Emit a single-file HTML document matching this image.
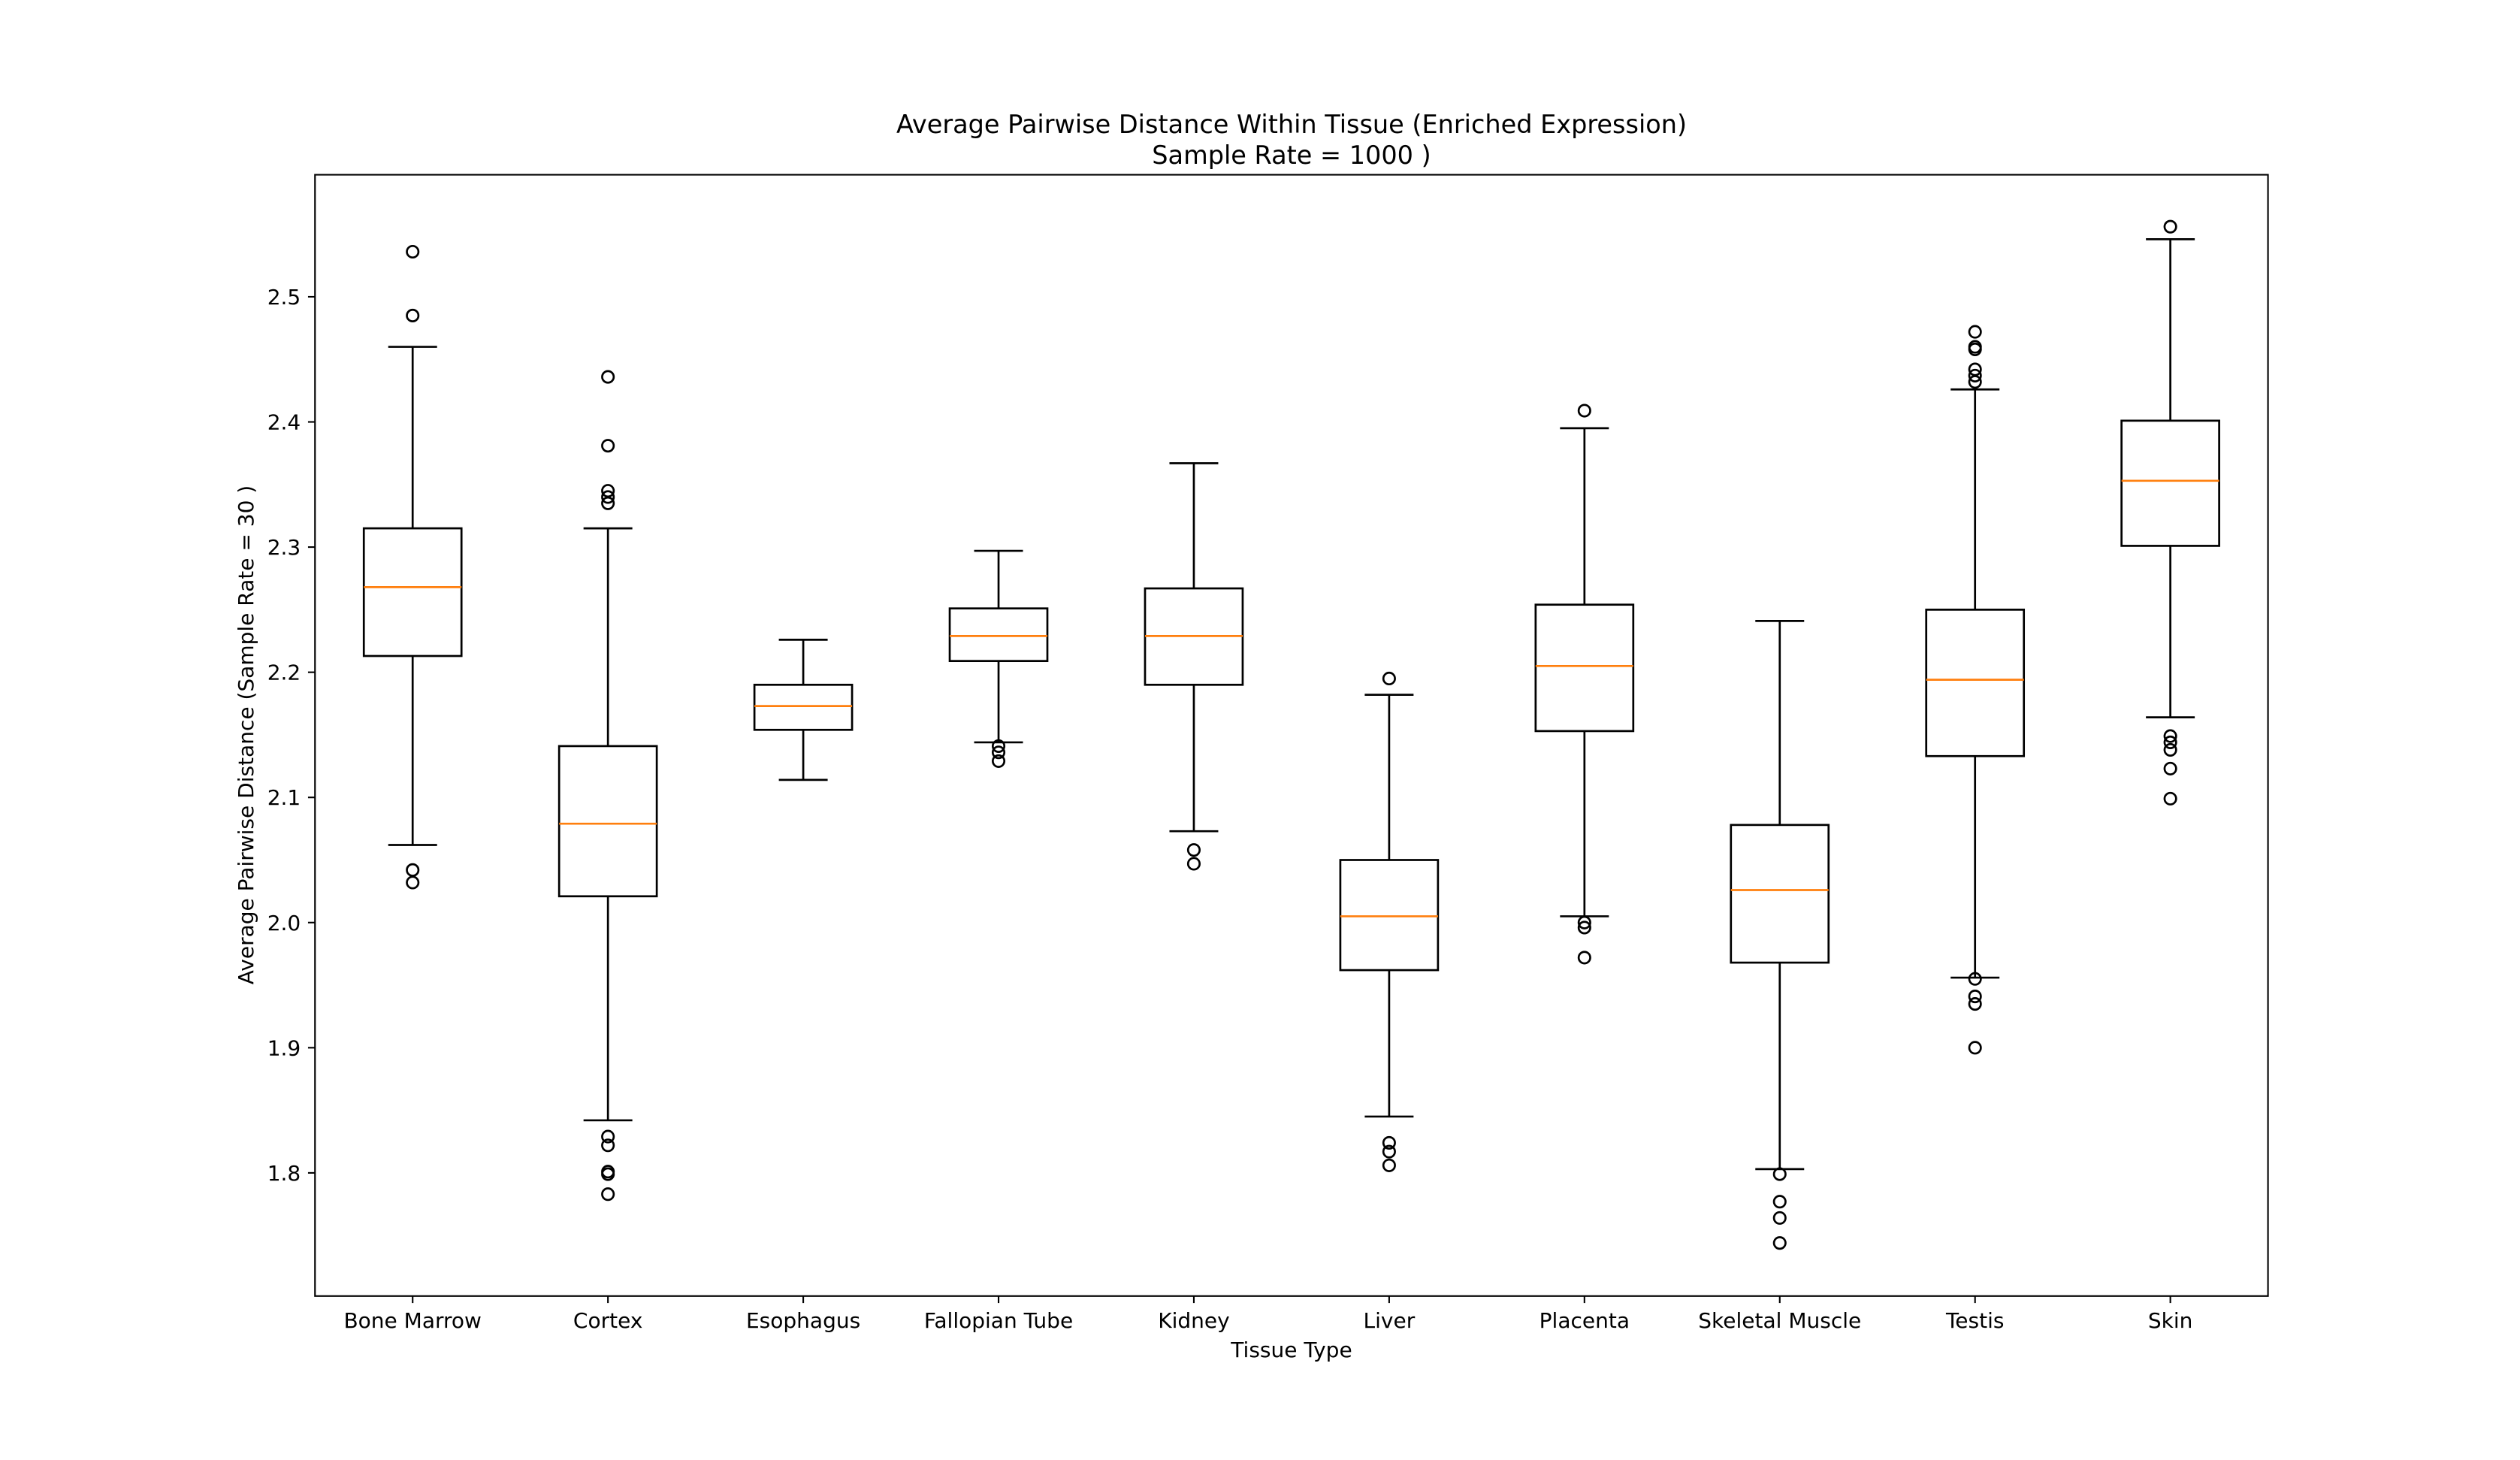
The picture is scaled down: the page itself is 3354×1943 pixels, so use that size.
<!DOCTYPE html>
<html><head><meta charset="utf-8"><style>
html,body{margin:0;padding:0;background:#fff;}
svg text{font-family:"DejaVu Sans","Liberation Sans",sans-serif;fill:#000;}
</style></head><body>
<svg id="chart" width="3354" height="1938" viewBox="0 0 3354 1938" xmlns="http://www.w3.org/2000/svg">
<rect width="3354" height="1938" fill="#fff"/>
<g id="plot"></g>
<text x="1719" y="177" font-size="33.5" text-anchor="middle">Average Pairwise Distance Within Tissue (Enriched Expression)</text>
<text x="1719" y="218" font-size="33.5" text-anchor="middle">Sample Rate = 1000 )</text>
<text x="1719" y="1806" font-size="28" text-anchor="middle">Tissue Type</text>
<text x="0" y="0" font-size="28" text-anchor="middle" transform="translate(337,978) rotate(-90)">Average Pairwise Distance (Sample Rate = 30 )</text>
</svg>
<script>
const categories = ["Bone Marrow","Cortex","Esophagus","Fallopian Tube","Kidney","Liver","Placenta","Skeletal Muscle","Testis","Skin"];
const whiskerLow = [2.062,1.842,2.114,2.144,2.073,1.845,2.005,1.803,1.956,2.164];
const q1 = [2.213,2.021,2.154,2.209,2.190,1.962,2.153,1.968,2.133,2.301];
const medians = [2.268,2.079,2.173,2.229,2.229,2.005,2.205,2.026,2.194,2.353];
const q3 = [2.315,2.141,2.190,2.251,2.267,2.050,2.254,2.078,2.250,2.401];
const whiskerHigh = [2.460,2.315,2.226,2.297,2.367,2.182,2.395,2.241,2.426,2.546];
const fliers = [
 [2.536,2.485,2.042,2.032],
 [2.436,2.381,2.345,2.340,2.335,1.829,1.822,1.801,1.799,1.783],
 [],
 [2.141,2.136,2.129],
 [2.058,2.047],
 [2.195,1.824,1.817,1.806],
 [2.409,2.000,1.996,1.972],
 [1.799,1.777,1.764,1.744],
 [2.472,2.460,2.458,2.442,2.437,2.432,1.955,1.941,1.935,1.900],
 [2.556,2.149,2.144,2.138,2.123,2.099]
];
const yTicks = [1.8,1.9,2.0,2.1,2.2,2.3,2.4,2.5];
const yTickLabels = ["1.8","1.9","2.0","2.1","2.2","2.3","2.4","2.5"];

const L=419.25,R=3018.6,T=232.56,B=1724.8;
const yMin=1.7016,yMax=2.5975;
function sx(i){return L+(i+0.5)*(R-L)/categories.length;}
function sy(v){return B-(v-yMin)/(yMax-yMin)*(B-T);}
const unit=(R-L)/categories.length;
const NS="http://www.w3.org/2000/svg";
const g=document.getElementById('plot');
function mk(tag,attrs,parent){const e=document.createElementNS(NS,tag);for(const k in attrs)e.setAttribute(k,attrs[k]);(parent||g).appendChild(e);return e;}

categories.forEach((c,i)=>{
 const grp=mk('g',{});
 
 
 const x=sx(i),hw=unit*0.25,cw=unit*0.125;
 const st={stroke:'#000','stroke-width':2.7,fill:'none'};
 mk('line',Object.assign({x1:x,x2:x,y1:sy(whiskerHigh[i]),y2:sy(q3[i])},st),grp);
 mk('line',Object.assign({x1:x,x2:x,y1:sy(q1[i]),y2:sy(whiskerLow[i])},st),grp);
 mk('line',Object.assign({x1:x-cw,x2:x+cw,y1:sy(whiskerHigh[i]),y2:sy(whiskerHigh[i])},st),grp);
 mk('line',Object.assign({x1:x-cw,x2:x+cw,y1:sy(whiskerLow[i]),y2:sy(whiskerLow[i])},st),grp);
 mk('rect',Object.assign({x:x-hw,y:sy(q3[i]),width:2*hw,height:sy(q1[i])-sy(q3[i])},st),grp);
 mk('line',{x1:x-hw,x2:x+hw,y1:sy(medians[i]),y2:sy(medians[i]),stroke:'#ff7f0e','stroke-width':2.7},grp);
 fliers[i].forEach(v=>{
  const f=mk('circle',{cx:x,cy:sy(v),r:7.7,fill:'none',stroke:'#000','stroke-width':2.7},grp);
  
  
 });
 const t=mk('text',{x:x,y:1767,'font-size':28,'text-anchor':'middle'});
 t.textContent=c;
 
 
 mk('line',{x1:x,x2:x,y1:B,y2:B+9.3,stroke:'#000','stroke-width':2.1});
});
yTicks.forEach((v,k)=>{
 const y=sy(v);
 mk('line',{x1:L-9.3,x2:L,y1:y,y2:y,stroke:'#000','stroke-width':2.1});
 const t=mk('text',{x:L-19,y:y+10,'font-size':28,'text-anchor':'end'});
 t.textContent=yTickLabels[k];
 
 
});
const frame=mk('rect',{x:L,y:T,width:R-L,height:B-T,fill:'none',stroke:'#000','stroke-width':2.1});


</script>
</body></html>
